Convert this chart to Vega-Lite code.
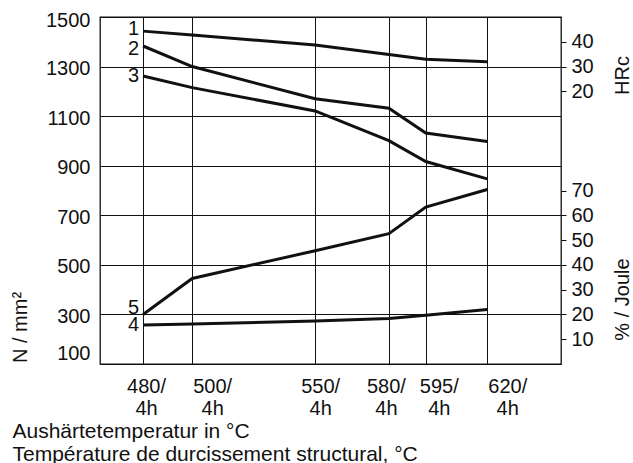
{
  "$schema": "https://vega.github.io/schema/vega-lite/v6.json",
  "width": 461,
  "height": 347,
  "autosize": {"type": "none"},
  "padding": {"left": 100, "top": 17, "right": 72, "bottom": 99},
  "background": "white",
  "config": {
    "font": "Liberation Sans",
    "view": {"stroke": "#111", "strokeWidth": 1.3},
    "axis": {"labelColor": "#111", "titleColor": "#111", "labelFontSize": 20, "titleFontSize": 20, "titleFontWeight": "normal", "labelFont": "Liberation Sans", "titleFont": "Liberation Sans"}
  },
  "data": {
    "values": [
      {"series": "1", "T": 480, "v": 1443},
      {"series": "1", "T": 500, "v": 1427},
      {"series": "1", "T": 550, "v": 1387},
      {"series": "1", "T": 580, "v": 1349},
      {"series": "1", "T": 595, "v": 1330},
      {"series": "1", "T": 620, "v": 1319},
      {"series": "2", "T": 480, "v": 1383},
      {"series": "2", "T": 500, "v": 1300},
      {"series": "2", "T": 550, "v": 1170},
      {"series": "2", "T": 580, "v": 1132},
      {"series": "2", "T": 595, "v": 1032},
      {"series": "2", "T": 620, "v": 998},
      {"series": "3", "T": 480, "v": 1262},
      {"series": "3", "T": 500, "v": 1215},
      {"series": "3", "T": 550, "v": 1121},
      {"series": "3", "T": 580, "v": 1001},
      {"series": "3", "T": 595, "v": 917},
      {"series": "3", "T": 620, "v": 847},
      {"series": "4", "T": 480, "v": 257},
      {"series": "4", "T": 500, "v": 261},
      {"series": "4", "T": 550, "v": 273},
      {"series": "4", "T": 580, "v": 284},
      {"series": "4", "T": 595, "v": 297},
      {"series": "4", "T": 620, "v": 320},
      {"series": "5", "T": 480, "v": 300},
      {"series": "5", "T": 500, "v": 445},
      {"series": "5", "T": 550, "v": 557},
      {"series": "5", "T": 580, "v": 626},
      {"series": "5", "T": 595, "v": 733},
      {"series": "5", "T": 620, "v": 804}
    ]
  },
  "layer": [
    {
      "mark": {"type": "line", "color": "#111", "strokeWidth": 3},
      "encoding": {
        "x": {
          "field": "T", "type": "quantitative",
          "scale": {"domain": [462.5, 650], "nice": false, "zero": false},
          "axis": {
            "values": [480, 500, 550, 580, 595, 620],
            "format": "d",
            "grid": true, "gridColor": "#111", "gridWidth": 1, "gridOpacity": 1,
            "ticks": false, "domain": false,
            "labelExpr": "[datum.label + '/', '4h']",
            "labelBaseline": "alphabetic",
            "labelLineHeight": 22,
            "labelPadding": 28,
            "labelFlush": false,
            "labelOverlap": false,
            "labelOffset": {"condition": [
              {"test": "datum.value == 480", "value": 3},
              {"test": "datum.value == 500", "value": 20},
              {"test": "datum.value == 550", "value": 5},
              {"test": "datum.value == 580", "value": -3},
              {"test": "datum.value == 595", "value": 13},
              {"test": "datum.value == 620", "value": 20}
            ], "value": 0},
            "title": ["Aushärtetemperatur in °C", "Température de durcissement structural, °C"],
            "titleFontSize": 21,
            "titleAnchor": "start",
            "titleAlign": "left",
            "titleBaseline": "alphabetic",
            "titleLineHeight": 23,
            "titleX": -88,
            "titleY": 73
          }
        },
        "y": {
          "field": "v", "type": "quantitative",
          "scale": {"domain": [100, 1500], "nice": false, "zero": false},
          "axis": {
            "orient": "left",
            "values": [100, 300, 500, 700, 900, 1100, 1300, 1500],
            "format": "d",
            "grid": true, "gridColor": "#111", "gridWidth": 1, "gridOpacity": 1,
            "ticks": false, "domain": false,
            "labelPadding": 10,
            "labelBaseline": {"condition": {"test": "datum.value == 100", "value": "bottom"}, "value": "middle"},
            "labelOffset": {"condition": [
              {"test": "datum.value == 100", "value": -1},
              {"test": "datum.value == 1500", "value": 3}
            ], "value": 2},
            "title": "N / mm²",
            "titleAngle": -90,
            "titleAlign": "center",
            "titleBaseline": "middle",
            "titleX": -80,
            "titleY": 310
          }
        },
        "detail": {"field": "series"}
      }
    },
    {
      "transform": [{"filter": "datum.T == 480 && datum.series != '5'"}],
      "mark": {"type": "text", "align": "right", "baseline": "middle", "dx": -4, "dy": {"expr": "datum.series == '1' ? -2 : datum.series == '2' ? 3 : 0"}, "fontSize": 20, "font": "Liberation Sans", "color": "#111"},
      "encoding": {
        "x": {"field": "T", "type": "quantitative"},
        "y": {
          "field": "v", "type": "quantitative",
          "scale": {"domain": [100, 1500], "nice": false, "zero": false},
          "axis": {
            "orient": "right",
            "values": [1200, 1300, 1400],
            "labelExpr": "format((datum.value - 1000) / 10, 'd')",
            "grid": false, "domain": false,
            "ticks": true, "tickSize": 5, "tickColor": "#111",
            "labelPadding": 5,
            "title": "HRc",
            "titleAngle": -90,
            "titleAlign": "center",
            "titleBaseline": "middle",
            "titleX": 61,
            "titleY": 58
          }
        },
        "text": {"field": "series"}
      }
    },
    {
      "transform": [{"filter": "datum.T == 480 && datum.series == '5'"}],
      "mark": {"type": "text", "align": "right", "baseline": "alphabetic", "dx": -4, "fontSize": 20, "font": "Liberation Sans", "color": "#111"},
      "encoding": {
        "x": {"field": "T", "type": "quantitative"},
        "y": {
          "field": "v", "type": "quantitative",
          "scale": {"domain": [100, 1500], "nice": false, "zero": false},
          "axis": {
            "orient": "right",
            "values": [200, 300, 400, 500, 600, 700, 800],
            "labelExpr": "format((datum.value - 100) / 10, 'd')",
            "grid": false, "domain": false,
            "ticks": true, "tickSize": 5, "tickColor": "#111",
            "labelPadding": 5,
            "title": "% / Joule",
            "titleAngle": -90,
            "titleAlign": "center",
            "titleBaseline": "middle",
            "titleX": 61,
            "titleY": 282
          }
        },
        "text": {"field": "series"}
      }
    }
  ],
  "resolve": {"scale": {"y": "independent"}}
}
